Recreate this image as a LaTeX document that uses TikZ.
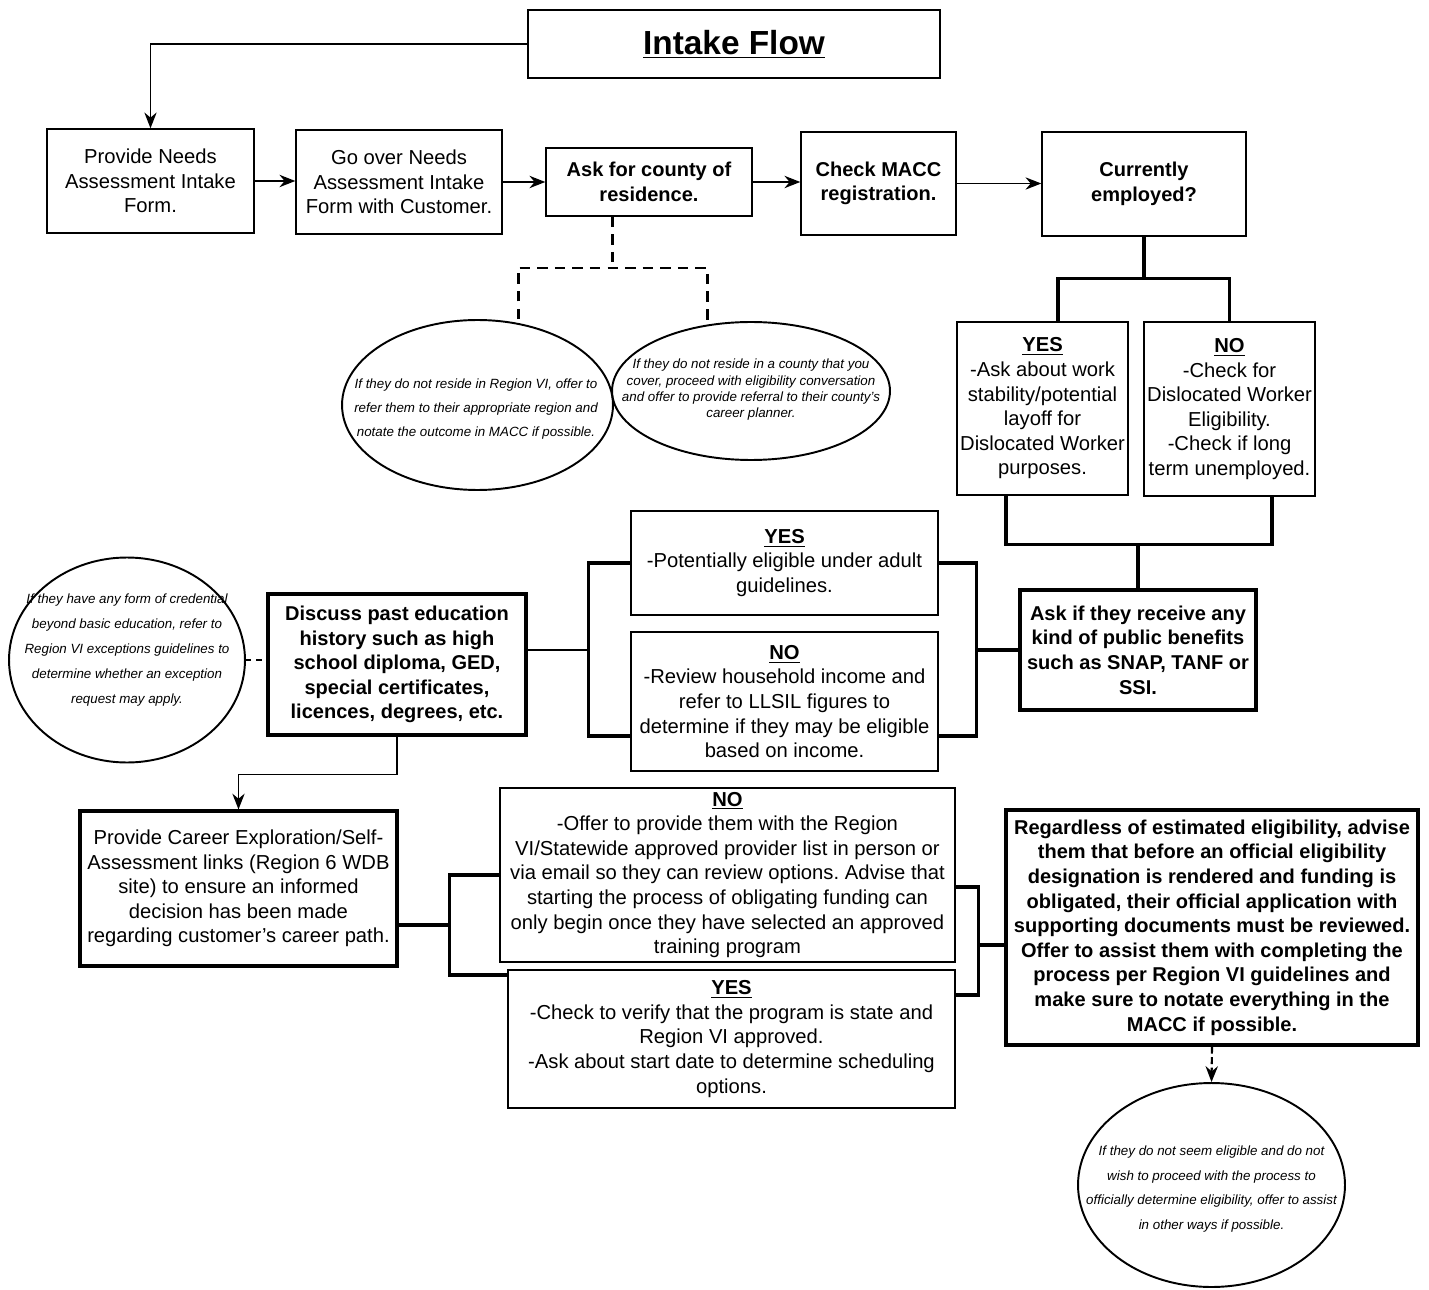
\documentclass[tikz,border=0pt]{standalone}
\usepackage{fontspec}
\setmainfont{Liberation Sans}
\usetikzlibrary{arrows.meta,shapes.geometric}
\frenchspacing

\begin{document}
\begin{tikzpicture}[x=0.02cm,y=-0.02cm,
  box/.style={draw,line width=0.8pt,align=center,inner sep=1pt,font=\fontsize{11.5}{14}\selectfont},
  bbox/.style={box,font=\bfseries\fontsize{11.4}{14}\selectfont},
  heavy/.style={line width=1.8pt},
  oval/.style={draw,ellipse,line width=1.1pt,inner sep=0pt},
  ovaltext/.style={align=center,inner sep=0pt,font=\itshape\fontsize{7.6}{#1}\selectfont},
  ovaltext/.default=14,
  branch/.style={line width=1.8pt},
  flow/.style={line width=1.1pt,-{Stealth[length=9pt,width=7pt]}},
  thinflow/.style={line width=0.8pt,-{Stealth[length=9pt,width=7pt]}},
  dashbranch/.style={line width=1.7pt,dash pattern=on 6pt off 4pt}]
\useasboundingbox (0,0) rectangle (1429,1290);

%top row
\node[box,minimum width=8.24cm,minimum height=1.36cm,font=\bfseries\fontsize{19}{22}\selectfont] (title) at (734,44) {\underline{Intake Flow}};
\node[box,minimum width=4.14cm,minimum height=2.08cm] (needs) at (150.5,181) {Provide Needs\\Assessment Intake\\Form.};
\node[box,minimum width=4.12cm,minimum height=2.08cm] (goover) at (399,182) {Go over Needs\\Assessment Intake\\Form with Customer.};
\node[bbox,minimum width=4.12cm,minimum height=1.36cm] (county) at (649,182) {Ask for county of\\residence.};
\node[bbox,minimum width=3.10cm,minimum height=2.06cm] (macc) at (878.5,183.5) {Check MACC\\registration.};
\node[bbox,minimum width=4.08cm,minimum height=2.08cm] (employed) at (1144,184) {Currently\\employed?};

\draw[thinflow] (title.west) -| (needs.north);
\draw[flow] (needs.east) -- (needs.east -| goover.west);
\draw[flow] (goover.east) -- (goover.east -| county.west);
\draw[flow] (county.east) -- (county.east -| macc.west);
\draw[thinflow] (macc.east) -- (macc.east -| employed.west);

%county notes
\node[oval,minimum width=5.42cm,minimum height=3.40cm] (region) at (477.5,405) {};
\node[ovaltext=13.6] at (476,409) {If they do not reside in Region VI, offer to\\refer them to their appropriate region and\\notate the outcome in MACC if possible.};
\node[oval,minimum width=5.56cm,minimum height=2.76cm] (cover) at (751,391) {};
\node[ovaltext=9.3] at (751,390) {If they do not reside in a county that you\\cover, proceed with eligibility conversation\\and offer to provide referral to their county's\\career planner.};
\coordinate (dl) at (518,268);
\coordinate (dr) at (707,268);
\draw[dashbranch] ([xshift=-0.74cm]county.south) -- ++(0,52);
\draw[dashbranch] (dl |- region.north) -- (dl) -- (dr) -- (dr |- cover.north);

%employment
\node[box,minimum width=3.42cm,minimum height=3.46cm] (empyes) at (1042.5,408.5) {\textbf{\underline{YES}}\\-Ask about work\\stability/potential\\layoff for\\Dislocated Worker\\purposes.};
\node[box,minimum width=3.42cm,minimum height=3.48cm] (empno) at (1229.5,409) {\textbf{\underline{NO}}\\-Check for\\Dislocated Worker\\Eligibility.\\-Check if long\\term unemployed.};
\draw[branch] (employed.south) -- ++(0,42) coordinate (j1);
\draw[branch] ([xshift=0.31cm]empyes.north) |- (j1) -| (empno.north);

\node[bbox,heavy,minimum width=4.72cm,minimum height=2.40cm] (benefits) at (1138,650) {Ask if they receive any\\kind of public benefits\\such as SNAP, TANF or\\SSI.};
\draw[branch] (benefits.north) -- ++(0,-44) coordinate (j2);
\draw[branch] ([xshift=-0.73cm]empyes.south) |- (j2) -| ([xshift=0.85cm]empno.south);

%adult guidelines
\node[box,minimum width=6.14cm,minimum height=2.08cm] (adultyes) at (784.5,563) {\textbf{\underline{YES}}\\-Potentially eligible under adult\\guidelines.};
\node[box,minimum width=6.14cm,minimum height=2.78cm] (adultno) at (784.5,701.5) {\textbf{\underline{NO}}\\-Review household income and\\refer to LLSIL figures to\\determine if they may be eligible\\based on income.};
\draw[branch] (benefits.west) -- ++(-42,0) coordinate (j3);
\draw[branch] (adultyes.east) -| (j3) |- ([yshift=-0.69cm]adultno.east);

\node[bbox,heavy,minimum width=5.16cm,minimum height=2.82cm] (educ) at (397,664.5) {Discuss past education\\history such as high\\school diploma, GED,\\special certificates,\\licences, degrees, etc.};
\draw[line width=1.2pt] ([yshift=0.29cm]educ.east) -- ++(61,0) coordinate (j4);
\draw[branch] (adultyes.west) -| (j4) |- ([yshift=-0.69cm]adultno.west);

\node[oval,minimum width=4.72cm,minimum height=4.1cm] (credential) at (127,660) {};
\node[ovaltext=14.2] at (127,650) {If they have any form of credential\\beyond basic education, refer to\\Region VI exceptions guidelines to\\determine whether an exception\\request may apply.};
\draw[line width=0.8pt,dashed] (credential.east) -- (credential.east -| educ.west);

%career and providers
\node[box,heavy,minimum width=6.34cm,minimum height=3.10cm] (career) at (238.5,888.5) {Provide Career Exploration/Self-\\Assessment links (Region 6 WDB\\site) to ensure an informed\\decision has been made\\regarding customer's career path.};
\draw[thinflow] (educ.south) -- ++(0,38) -| (career.north);

\node[box,minimum width=9.10cm,minimum height=3.48cm] (provno) at (727.5,875) {\textbf{\underline{NO}}\\-Offer to provide them with the Region\\VI/Statewide approved provider list in person or\\via email so they can review options. Advise that\\starting the process of obligating funding can\\only begin once they have selected an approved\\training program};
\node[box,minimum width=8.94cm,minimum height=2.76cm] (provyes) at (731.5,1039) {\textbf{\underline{YES}}\\-Check to verify that the program is state and\\Region VI approved.\\-Ask about start date to determine scheduling\\options.};
\draw[branch] ([yshift=-0.73cm]career.east) -- ++(51,0) coordinate (j5);
\draw[branch] (provno.west) -| (j5) |- ([yshift=1.28cm]provyes.west);

\node[bbox,heavy,minimum width=8.24cm,minimum height=4.70cm] (advise) at (1212,927.5) {Regardless of estimated eligibility, advise\\them that before an official eligibility\\designation is rendered and funding is\\obligated, their official application with\\supporting documents must be reviewed.\\Offer to assist them with completing the\\process per Region VI guidelines and\\make sure to notate everything in the\\MACC if possible.};
\draw[branch] ([yshift=-0.35cm]advise.west) -- ++(-26,0) coordinate (j6);
\draw[branch] ([yshift=-0.24cm]provno.east) -| (j6) |- ([yshift=0.88cm]provyes.east);

\node[oval,minimum width=5.34cm,minimum height=4.08cm] (assist) at (1211.5,1185) {};
\node[ovaltext=14] at (1211.5,1189) {If they do not seem eligible and do not\\wish to proceed with the process to\\officially determine eligibility, offer to assist\\in other ways if possible.};
\draw[line width=1.2pt,dash pattern=on 4pt off 2pt,-{Stealth[length=9pt,width=7pt]}] (advise.south) -- (assist.north);
\end{tikzpicture}
\end{document}
